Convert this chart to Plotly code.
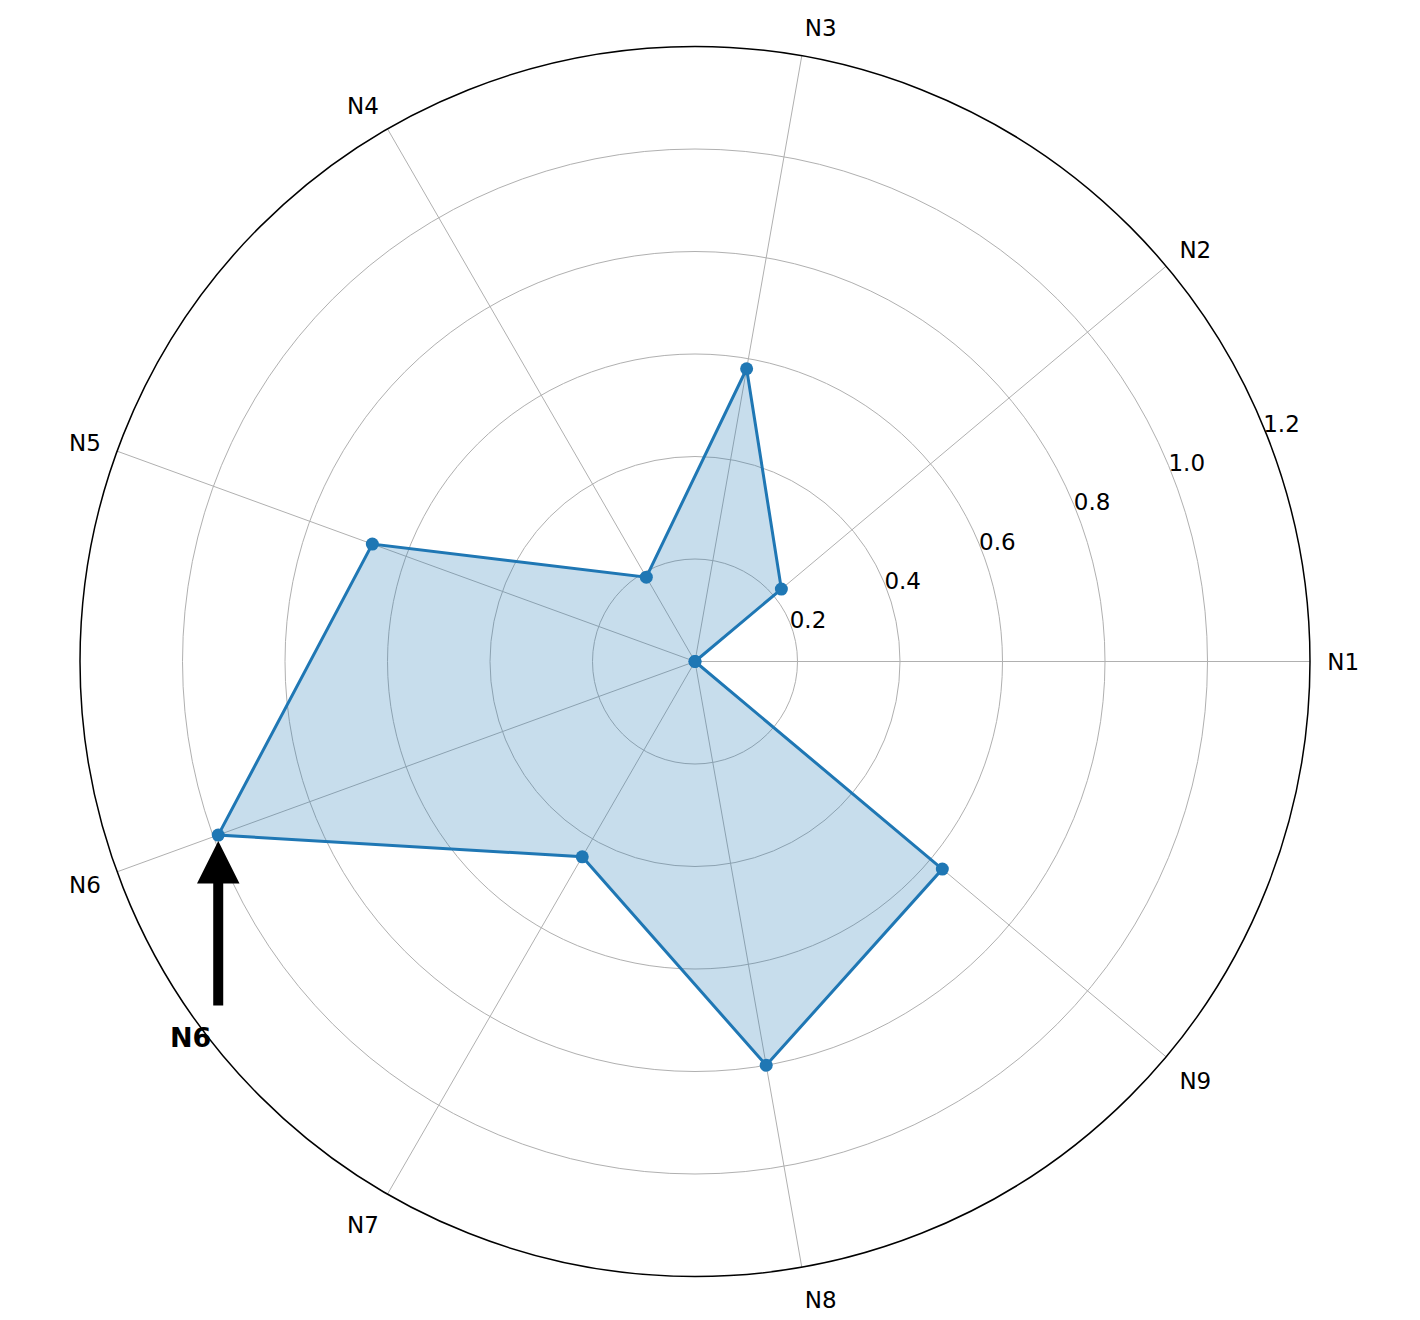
import math
import plotly.graph_objects as go

# radar data
categories = ["N1", "N2", "N3", "N4", "N5", "N6", "N7", "N8", "N9"]
values = [0.0, 0.22, 0.58, 0.19, 0.67, 0.99, 0.44, 0.80, 0.63]
radial_ticks = [0.2, 0.4, 0.6, 0.8, 1.0, 1.2]
radial_label_angle = 22.5
highlight = "N6"

angles = [i * 360 / len(categories) for i in range(len(categories))]
r_max = 1.2

W, H = 1420, 1320
# polar area placement in figure pixels (page body adds 8px offset)
cx_px, cy_px, rad_px = 687, 653.5, 615
dom_x = [(cx_px - rad_px) / W, (cx_px + rad_px) / W]
dom_y = [(H - cy_px - rad_px) / H, (H - cy_px + rad_px) / H]

blue = "#1f77b4"
font_family = "DejaVu Sans"

fig = go.Figure()
fig.add_trace(go.Scatterpolar(
    r=values + values[:1],
    theta=angles + angles[:1],
    mode="lines+markers",
    fill="toself",
    fillcolor="rgba(31,119,180,0.25)",
    line=dict(color=blue, width=3),
    marker=dict(color=blue, size=13),
    showlegend=False,
    hoverinfo="skip",
))

# radial tick labels, matplotlib style (just outside each ring)
fig.add_trace(go.Scatterpolar(
    r=radial_ticks,
    theta=[radial_label_angle] * len(radial_ticks),
    mode="text",
    text=[f"{v:.1f}" for v in radial_ticks],
    textposition="middle right",
    textfont=dict(size=23, color="black", family=font_family),
    cliponaxis=False,
    showlegend=False,
    hoverinfo="skip",
))

# arrow pointing at the highlighted category, placed from its value
idx = categories.index(highlight)
ang = math.radians(angles[idx])
px_x = cx_px + rad_px * values[idx] / r_max * math.cos(ang)
px_y = cy_px - rad_px * values[idx] / r_max * math.sin(ang)
hx, hy = px_x / W, 1 - px_y / H

fig.add_annotation(
    x=hx, y=hy, xref="paper", yref="paper",
    text="", showarrow=True,
    ax=0, ay=172, axref="pixel", ayref="pixel",
    arrowhead=2, arrowsize=0.85, arrowwidth=10, arrowcolor="black",
    standoff=6,
)
fig.add_annotation(
    x=hx, y=hy, xref="paper", yref="paper",
    xanchor="center", yanchor="middle",
    text="<b>" + highlight + "</b>", showarrow=False,
    xshift=-28, yshift=-202,
    font=dict(size=27, color="black", family=font_family),
)

fig.update_layout(
    width=W, height=H,
    margin=dict(l=0, r=0, t=0, b=0),
    paper_bgcolor="white",
    font=dict(family=font_family, size=23, color="black"),
    polar=dict(
        domain=dict(x=dom_x, y=dom_y),
        bgcolor="white",
        radialaxis=dict(
            range=[0, r_max],
            tickvals=radial_ticks,
            showticklabels=False,
            angle=radial_label_angle,
            showline=False,
            ticks="",
            gridcolor="#b0b0b0",
            gridwidth=1,
        ),
        angularaxis=dict(
            tickvals=angles,
            ticktext=categories,
            rotation=0,
            direction="counterclockwise",
            showline=True,
            linecolor="black",
            linewidth=1.5,
            gridcolor="#b0b0b0",
            gridwidth=1,
            ticks="outside",
            ticklen=12,
            tickcolor="rgba(0,0,0,0)",
            tickfont=dict(size=23, color="black"),
        ),
    ),
)

fig.write_html("out.html")
